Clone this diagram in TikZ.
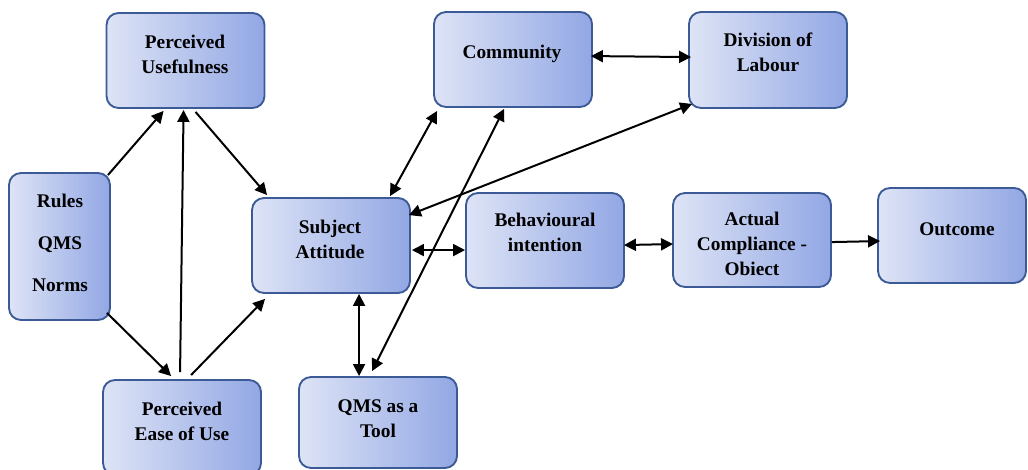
\documentclass[tikz,border=0pt]{standalone}
\usepackage{fontspec}
\setmainfont{Liberation Serif}
\usetikzlibrary{arrows.meta,calc}
\definecolor{boxline}{HTML}{3C5A96}
\definecolor{boxleft}{HTML}{DEE4F6}
\definecolor{boxright}{HTML}{92A7E4}
\tikzset{
  box/.style={rectangle, rounded corners=9pt, draw=boxline, line width=1.4pt,
    left color=boxleft, right color=boxright, inner sep=0pt,
    minimum width=#1*0.75pt},
  box/.default=158,
  boxtext/.style={align=center, inner sep=0pt,
    font=\fontsize{14.5}{18.75}\selectfont\bfseries},
  link/.style={line width=1.5pt, -{Triangle[length=9pt,width=9pt]}},
  twoway/.style={line width=1.5pt, {Triangle[length=9pt,width=9pt]}-{Triangle[length=9pt,width=9pt]}}
}
\begin{document}
\begin{tikzpicture}[x=0.75pt,y=-0.75pt]
\useasboundingbox (0,0) rectangle (1028,470);

% boxes
\node[box, minimum height=95*0.75pt] (pu)    at (185.5,60.5) {};
\node[box=101, minimum height=147*0.75pt] (rules) at (59.5,246.5) {};
\node[box, minimum height=95*0.75pt] (peou)  at (182,427.5) {};
\node[box, minimum height=95*0.75pt] (sa)    at (331,245.5) {};
\node[box, minimum height=95*0.75pt] (bi)    at (545,240.5) {};
\node[box, minimum height=91*0.75pt] (tool)  at (378,422.5) {};
\node[box, minimum height=94*0.75pt] (ac)    at (752,240) {};
\node[box=148, minimum height=95*0.75pt] (out) at (952,235.5) {};
\node[box, minimum height=95*0.75pt] (com)   at (513,59.5) {};
\node[box, minimum height=96*0.75pt] (div)   at (768,60) {};

% labels
\node[boxtext] (pu-t)    at (185,54) {Perceived\\Usefulness};
\node[boxtext, font=\fontsize{14.5}{31.5}\selectfont\bfseries] (rules-t) at (60,242.5) {Rules\\QMS\\Norms};
\node[boxtext] (peou-t)  at (182,421) {Perceived\\Ease of Use};
\node[boxtext] (sa-t)    at (330,239) {Subject\\Attitude};
\node[boxtext] (bi-t)    at (545,232.5) {Behavioural\\intention};
\node[boxtext] (ac-t)    at (752,243.5) {Actual\\Compliance -\\Obiect};
\node[boxtext] (out-t)   at (957,229.5) {Outcome};
\node[boxtext] (com-t)   at (512,53.5) {Community};
\node[boxtext] (div-t)   at (768,52.5) {Division of\\Labour};
\node[boxtext] (tool-t)  at (378,418.5) {QMS as a\\Tool};

% connectors
\draw[link] ($(rules.north east)+(-3,3)$) -- ($(pu.south west)+(58,2)$);
\draw[link] ($(rules.south east)+(-4,-8)$) -- ($(peou.north west)+(69,-3)$);
\draw[link] ($(peou.north west)+(78,-7)$) -- ($(pu.south west)+(78,1)$);
\draw[link] ($(peou.north west)+(89,-4)$) -- ($(sa.south west)+(14,5)$);
\draw[link] ($(pu.south west)+(90,3)$) -- ($(sa.north west)+(16,-2)$);
\draw[twoway] ($(sa.north west)+(139,-1)$) -- ($(com.south west)+(4,3)$);
\draw[twoway] ($(com.south west)+(71,1)$) -- ($(tool.north west)+(74,-5)$);
\draw[twoway] ($(sa.north east)+(-2,18)$) -- ($(div.south west)+(4,-5)$);
\draw[twoway] ($(com.north east)+(-2,45)$) -- ($(div.north west)+(3,46)$);
\draw[twoway] ($(sa.north east)+(1,53)$) -- ($(bi.north west)+(0,58)$);
\draw[twoway] ($(sa.south west)+(108,0)$) -- ($(tool.north west)+(61,0)$);
\draw[twoway] ($(bi.north east)+(-1,53)$) -- ($(ac.north west)+(1,52)$);
\draw[link] ($(ac.north east)+(0,50)$) -- ($(out.north west)+(3,54)$);
\end{tikzpicture}
\end{document}
